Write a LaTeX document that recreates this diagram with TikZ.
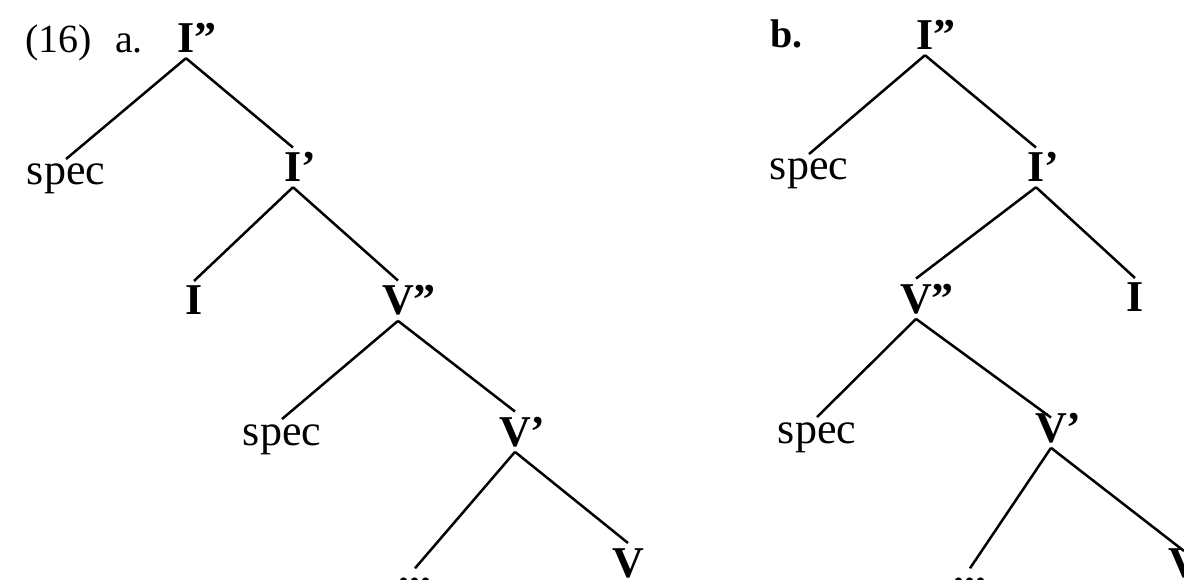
\documentclass[tikz,border=0pt]{standalone}
\usepackage{fontspec}
\setmainfont{Liberation Serif}
\begin{document}
\begin{tikzpicture}[x=1pt,y=-1pt,
  lbl/.style={font=\bfseries\fontsize{44}{44}\selectfont, inner sep=5pt, anchor=base},
  wrd/.style={font=\fontsize{44}{44}\selectfont, inner sep=5pt, anchor=base},
  num/.style={font=\fontsize{40}{40}\selectfont, inner sep=0pt, anchor=base west},
  edge/.style={line width=2.5pt}]
\useasboundingbox (0,0) rectangle (1184,580);
\clip (0,0) rectangle (1184,580);
\fill[white] (0,0) rectangle (1184,580);
% tree a
\node[num] (ex) at (25,53) {(16)};
\node[num] (la) at (115,53) {a.};
\node[lbl] (aIpp) at (186,53) {I\rlap{”}};
\node[wrd] (aspec1) at (66,185) {spec};
\node[lbl] (aIp) at (293,182) {I\rlap{’}};
\node[lbl] (aI) at (194,315) {I};
\node[lbl] (aVpp) at (398,315) {V\rlap{”}};
\node[wrd] (aspec2) at (282,445) {spec};
\node[lbl] (aVp) at (515,446) {V\rlap{’}};
\node[lbl] (adots) at (415,584) {...};
\node[lbl] (aV) at (628,577) {V};
\draw[edge] (aIpp.south) -- (aspec1.north);
\draw[edge] (aIpp.south) -- (aIp.north);
\draw[edge] (aIp.south) -- (aI.north);
\draw[edge] (aIp.south) -- (aVpp.north);
\draw[edge] (aVpp.south) -- (aspec2.north);
\draw[edge] (aVpp.south) -- (aVp.north);
\draw[edge] (aVp.south) -- ([yshift=4pt]adots.north);
\draw[edge] (aVp.south) -- (aV.north);
% tree b
\node[num, font=\bfseries\fontsize{40}{40}\selectfont] (lb) at (770,48) {b.};
\node[lbl] (bIpp) at (925,50) {I\rlap{”}};
\node[wrd] (bspec1) at (809,180) {spec};
\node[lbl] (bIp) at (1036,182) {I\rlap{’}};
\node[lbl] (bVpp) at (916,313) {V\rlap{”}};
\node[lbl] (bI) at (1135,312) {I};
\node[wrd] (bspec2) at (817,443) {spec};
\node[lbl] (bVp) at (1051,442) {V\rlap{’}};
\node[lbl] (bdots) at (970,584) {...};
\node[lbl] (bV) at (1184,577) {V};
\draw[edge] (bIpp.south) -- (bspec1.north);
\draw[edge] (bIpp.south) -- (bIp.north);
\draw[edge] (bIp.south) -- (bVpp.north);
\draw[edge] (bIp.south) -- (bI.north);
\draw[edge] (bVpp.south) -- (bspec2.north);
\draw[edge] (bVpp.south) -- ([yshift=-10pt]bVp.north);
\draw[edge] (bVp.south) -- ([yshift=4pt]bdots.north);
\draw[edge] (bVp.south) -- ([yshift=-8pt]bV.north);
\end{tikzpicture}
\end{document}
